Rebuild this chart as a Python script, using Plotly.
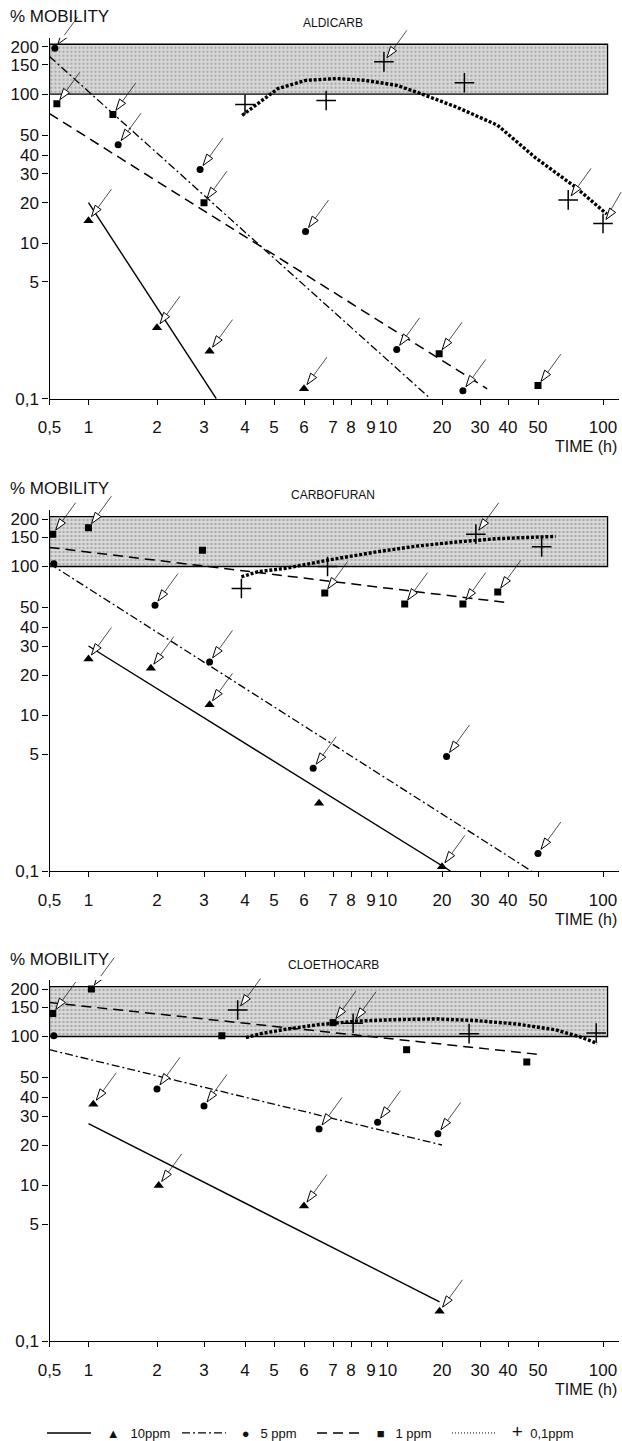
import numpy as np
import plotly.graph_objects as go

W, H = 622, 1441
FONT = "Liberation Sans, Arial, Helvetica, sans-serif"

# ---------------- tick values / labels ----------------
X_TICKS = [0.5, 1, 2, 3, 4, 5, 6, 7, 8, 9, 10, 20, 30, 40, 50, 100]
X_LABELS = ["0,5", "1", "2", "3", "4", "5", "6", "7", "8", "9", "\u200a10",
            "20", "30", "40", "50", "100"]
Y_TICKS = [200, 150, 100, 50, 40, 30, 20, 10, 5, 0.1]
Y_LABELS = ["200", "150", "100", "50", "40", "30", "20", "10", "5", "0,1"]

# ---------------- data: ALDICARB ----------------
ALD_T10 = [1.0, 2.0, 3.12, 6.0]
ALD_Y10 = [14.7, 1.07, 0.49, 0.14]
ALD_A10 = [1, 1, 1, 1]
ALD_T5 = [0.55, 1.35, 2.9, 6.05, 11.3, 25]
ALD_Y5 = [195, 45, 32, 12.2, 0.52, 0.13]
ALD_A5 = [1, 1, 1, 1, 1, 1]
ALD_T1 = [0.57, 1.28, 3.0, 19.3, 50]
ALD_Y1 = [85, 71, 20, 0.45, 0.155]
ALD_A1 = [1, 1, 1, 1, 1]
ALD_T01 = [4.0, 6.75, 9.8, 25.4, 69, 100]
ALD_Y01 = [84, 90, 157, 117, 20.8, 14]
ALD_A01 = [0, 0, 1, 0, 1, 1]
ALD_L10_T = [1.0, 3.27]
ALD_L10_Y = [20, 0.1]
ALD_L5_T = [0.5, 17.3]
ALD_L5_Y = [171, 0.1]
ALD_L1_T = [0.5, 32.3]
ALD_L1_Y = [72, 0.139]
ALD_L01_T = [3.92, 5.12, 6.05, 7.22, 8.68, 11.3, 14.5, 23.3, 35.9, 49.1, 74.5, 104]
ALD_L01_Y = [70, 108, 121, 124, 121, 113, 103, 80.6, 59.2, 38.4, 24.9, 16.5]

# ---------------- data: CARBOFURAN ----------------
CAR_T10 = [1.0, 1.88, 3.12, 6.5, 20]
CAR_Y10 = [25, 22, 12, 0.96, 0.115]
CAR_A10 = [1, 1, 1, 0, 1]
CAR_T5 = [0.54, 1.96, 3.12, 6.3, 21, 50]
CAR_Y5 = [104, 52, 24, 3.1, 4.6, 0.18]
CAR_A5 = [0, 1, 1, 1, 1, 1]
CAR_T1 = [0.53, 1.0, 2.96, 6.7, 12.5, 25, 36]
CAR_Y1 = [157, 174, 125, 64, 53, 53, 65]
CAR_A1 = [1, 1, 0, 1, 1, 1, 1]
CAR_T01 = [3.9, 6.8, 28.7, 52]
CAR_Y01 = [69, 100, 157, 131]
CAR_A01 = [0, 0, 1, 0]
CAR_L10_T = [1.0, 21.9]
CAR_L10_Y = [30, 0.1]
CAR_L5_T = [0.5, 47.6]
CAR_L5_Y = [104, 0.1]
CAR_L1_T = [0.5, 40.6]
CAR_L1_Y = [130, 54]
CAR_L01_T = [3.9, 4.42, 5.37, 6.87, 9.4, 14.5, 23.3, 35.9, 60.3]
CAR_L01_Y = [84, 91.6, 97, 109.6, 122.5, 132.4, 140, 146.7, 151.4]

# ---------------- data: CLOETHOCARB ----------------
CLO_T10 = [1.05, 2.03, 6.0, 19.4]
CLO_Y10 = [36, 10, 6.9, 0.27]
CLO_A10 = [1, 1, 1, 1]
CLO_T5 = [0.54, 2.0, 3.0, 6.5, 9.4, 19]
CLO_Y5 = [101, 44, 35, 25, 27.5, 23.4]
CLO_A5 = [0, 1, 1, 1, 1, 1]
CLO_T1 = [0.53, 1.03, 3.4, 7.0, 12.8, 46]
CLO_Y1 = [137, 200, 101, 121, 80, 65]
CLO_A1 = [1, 1, 0, 1, 0, 0]
CLO_T01 = [3.8, 8.1, 26.7, 93]
CLO_Y01 = [144, 120, 104, 105]
CLO_A01 = [1, 1, 0, 0]
CLO_L10_T = [1.0, 19.4]
CLO_L10_Y = [27, 0.37]
CLO_L5_T = [0.5, 20]
CLO_L5_Y = [80, 20]
CLO_L1_T = [0.5, 50]
CLO_L1_Y = [161, 74]
CLO_L01_T = [4.03, 4.55, 5.37, 6.44, 8.29, 11.3, 18.7, 28.7, 42.4, 60.3, 77.7, 94]
CLO_L01_Y = [98, 104.3, 110.4, 117.5, 123.6, 126.2, 127.3, 124.5, 118.9, 109.6, 99.7, 89.1]

# reference band (100-200 % mobility)
BAND_T = [0.5, 105]
BAND_Y = [100, 208]

# ---------------- the figure's own (non-uniform) axis scales ----------------
# position of each tick along the axis (px), piecewise-logarithmic between ticks
X_POS = [0, 39, 107.5, 154.5, 195.5, 224.5, 254.5, 283.5, 301.5, 321.5,
         337.5, 392.5, 430.5, 458.5, 488.5, 553.5]
Y_POS = [0, -18, -47.5, -88.5, -108.5, -127, -156, -196.5, -235, -352]


def _interp(v, xp, fp):
    v = np.atleast_1d(np.asarray(v, float))
    xp = np.asarray(xp, float)
    fp = np.asarray(fp, float)
    out = np.interp(v, xp, fp)
    lo, hi = v < xp[0], v > xp[-1]
    out[lo] = fp[0] + (v[lo] - xp[0]) * (fp[1] - fp[0]) / (xp[1] - xp[0])
    out[hi] = fp[-1] + (v[hi] - xp[-1]) * (fp[-1] - fp[-2]) / (xp[-1] - xp[-2])
    return out


def sx(t):
    return _interp(np.log10(t), np.log10(X_TICKS), X_POS)


def sy(v):
    return _interp(np.log10(v), np.log10(Y_TICKS)[::-1], Y_POS[::-1])


# ---------------- layout geometry ----------------
X_LEFT, X_RIGHT = 49.5, 618.5
PANEL_Y200 = [46.7, 519.0, 989.0]      # pixel row of the 200 % tick in each panel
TOP_EXTRA = 9
NAMES = ["ALDICARB", "CARBOFURAN", "CLOETHOCARB"]

PANELS = [
    dict(t10=ALD_T10, y10=ALD_Y10, a10=ALD_A10, t5=ALD_T5, y5=ALD_Y5, a5=ALD_A5,
         t1=ALD_T1, y1=ALD_Y1, a1=ALD_A1, t01=ALD_T01, y01=ALD_Y01, a01=ALD_A01,
         l10=(ALD_L10_T, ALD_L10_Y), l5=(ALD_L5_T, ALD_L5_Y),
         l1=(ALD_L1_T, ALD_L1_Y), l01=(ALD_L01_T, ALD_L01_Y)),
    dict(t10=CAR_T10, y10=CAR_Y10, a10=CAR_A10, t5=CAR_T5, y5=CAR_Y5, a5=CAR_A5,
         t1=CAR_T1, y1=CAR_Y1, a1=CAR_A1, t01=CAR_T01, y01=CAR_Y01, a01=CAR_A01,
         l10=(CAR_L10_T, CAR_L10_Y), l5=(CAR_L5_T, CAR_L5_Y),
         l1=(CAR_L1_T, CAR_L1_Y), l01=(CAR_L01_T, CAR_L01_Y)),
    dict(t10=CLO_T10, y10=CLO_Y10, a10=CLO_A10, t5=CLO_T5, y5=CLO_Y5, a5=CLO_A5,
         t1=CLO_T1, y1=CLO_Y1, a1=CLO_A1, t01=CLO_T01, y01=CLO_Y01, a01=CLO_A01,
         l10=(CLO_L10_T, CLO_L10_Y), l5=(CLO_L5_T, CLO_L5_Y),
         l1=(CLO_L1_T, CLO_L1_Y), l01=(CLO_L01_T, CLO_L01_Y)),
]

LINE_STYLES = {
    "l10": dict(color="black", width=1.4, dash="solid"),
    "l5": dict(color="black", width=1.3, dash="8px,3px,2px,3px"),
    "l1": dict(color="black", width=1.5, dash="10px,6px"),
    "l01": dict(color="black", width=3.4, dash="3px,1.8px"),
}
MARKERS = {
    "10": dict(symbol="triangle-up", size=9, color="black"),
    "5": dict(symbol="circle", size=7, color="black"),
    "1": dict(symbol="square", size=7, color="black"),
    "01": dict(symbol="cross-thin", size=14, color="black",
               line=dict(color="black", width=1.5)),
}

ARROW_DX, ARROW_DY = 24, -33          # tail direction, screen px
ARROW_ANGLE = float(np.degrees(np.arctan2(-ARROW_DX, ARROW_DY)))  # clockwise from up

fig = go.Figure()
annotations = []

for i, P in enumerate(PANELS):
    xa = "x" if i == 0 else f"x{i+1}"
    ya = "y" if i == 0 else f"y{i+1}"

    # band
    bx = sx([BAND_T[0], BAND_T[1], BAND_T[1], BAND_T[0], BAND_T[0]])
    by = sy([BAND_Y[0], BAND_Y[0], BAND_Y[1], BAND_Y[1], BAND_Y[0]])
    fig.add_trace(go.Scatter(
        x=bx, y=by, mode="lines", fill="toself",
        fillcolor="#d4d4d4",
        fillpattern=dict(shape=".", bgcolor="#dadada", fgcolor="#7a7a7a",
                         size=4, solidity=0.3),
        line=dict(color="black", width=1.3),
        xaxis=xa, yaxis=ya, showlegend=False, hoverinfo="skip"))

    # fitted lines
    for key in ["l10", "l5", "l1", "l01"]:
        lt, lv = P[key]
        fig.add_trace(go.Scatter(
            x=sx(lt), y=sy(lv), mode="lines", line=LINE_STYLES[key],
            xaxis=xa, yaxis=ya, showlegend=False, hoverinfo="skip"))

    # measured points + arrows
    for s in ["10", "5", "1", "01"]:
        t, v, a = P["t" + s], P["y" + s], P["a" + s]
        px, py = sx(t), sy(v)
        fig.add_trace(go.Scatter(
            x=px, y=py, mode="markers", marker=MARKERS[s],
            xaxis=xa, yaxis=ya, showlegend=False))
        sel = [k for k, f in enumerate(a) if f]
        if sel:
            fig.add_trace(go.Scatter(
                x=px[sel], y=py[sel], mode="markers",
                marker=dict(symbol="arrow", size=12, angle=ARROW_ANGLE, standoff=5,
                            color="white", line=dict(color="black", width=1)),
                xaxis=xa, yaxis=ya, showlegend=False, hoverinfo="skip"))
            for k in sel:
                annotations.append(dict(
                    x=px[k], y=py[k], xref=xa, yref=ya, text="", showarrow=True,
                    arrowhead=0, arrowwidth=0.8, arrowcolor="#222",
                    ax=ARROW_DX, ay=ARROW_DY, standoff=16))

    # panel texts
    y200 = PANEL_Y200[i]
    annotations.append(dict(x=8 / W, y=1 - (y200 - 30) / H, xref="paper", yref="paper",
                            text="% MOBILITY", showarrow=False, xanchor="left",
                            yanchor="middle", font=dict(family=FONT, size=17, color="#111")))
    annotations.append(dict(x=333 / W, y=1 - (y200 - 24) / H, xref="paper", yref="paper",
                            text=NAMES[i], showarrow=False, xanchor="center",
                            yanchor="middle", font=dict(family=FONT, size=12, color="#111")))
    annotations.append(dict(x=619 / W, y=1 - (y200 - Y_POS[-1] + 48) / H, xref="paper",
                            yref="paper", text="TIME (h)", showarrow=False,
                            xanchor="right", yanchor="middle",
                            font=dict(family=FONT, size=16, color="#111")))

# legend-only traces
NB = "\u00a0"
LEG = [(NB * 3 + "▲" + NB * 3 + "10ppm", LINE_STYLES["l10"]),
       (NB * 3 + "●" + NB * 3 + "5 ppm", LINE_STYLES["l5"]),
       (NB * 3 + "■" + NB * 3 + "1 ppm", LINE_STYLES["l1"]),
       (NB * 3 + "<span style='font-size:19px'>+</span>" + NB * 2 + "0,1ppm",
        dict(color="black", width=1, dash="1px,2px"))]
for name, ls in LEG:
    fig.add_trace(go.Scatter(x=[None], y=[None], mode="lines", line=ls, name=name,
                             xaxis="x3", yaxis="y3", showlegend=True))

layout = dict(
    width=W, height=H, margin=dict(l=0, r=0, t=0, b=0, autoexpand=False),
    paper_bgcolor="white", plot_bgcolor="white",
    annotations=annotations,
    legend=dict(orientation="h", x=42 / W, xanchor="left", y=1 - 1433 / H,
                yanchor="middle", font=dict(family=FONT, size=13, color="#111"),
                itemwidth=44, entrywidth=76, entrywidthmode="pixels",
                bgcolor="rgba(0,0,0,0)", tracegroupgap=0),
    showlegend=True,
)

axis_common = dict(showgrid=False, zeroline=False, showline=True, linecolor="black",
                   linewidth=1.3, ticks="outside", tickcolor="black", tickwidth=1.1,
                   automargin=False,
                   tickfont=dict(family=FONT, size=17, color="#111"), fixedrange=True)
for i in range(3):
    xk = "xaxis" if i == 0 else f"xaxis{i+1}"
    yk = "yaxis" if i == 0 else f"yaxis{i+1}"
    ya = "y" if i == 0 else f"y{i+1}"
    xa = "x" if i == 0 else f"x{i+1}"
    y200 = PANEL_Y200[i]
    bottom_px = y200 - Y_POS[-1]
    top_px = y200 - TOP_EXTRA
    layout[xk] = dict(axis_common, domain=[X_LEFT / W, X_RIGHT / W],
                      range=[0, X_RIGHT - X_LEFT], anchor=ya,
                      tickvals=list(sx(X_TICKS)), ticktext=X_LABELS,
                      ticklen=5, tickangle=0, ticklabelstandoff=8)
    layout[yk] = dict(axis_common, domain=[1 - bottom_px / H, 1 - top_px / H],
                      range=[Y_POS[-1], TOP_EXTRA], anchor=xa,
                      tickvals=list(sy(Y_TICKS)), ticktext=Y_LABELS, ticklen=6)

fig.update_layout(**layout)
fig.write_html("out.html",
               config={"displayModeBar": False},
               post_script="document.body.style.margin='0';"
                           "document.body.style.overflow='hidden';")
